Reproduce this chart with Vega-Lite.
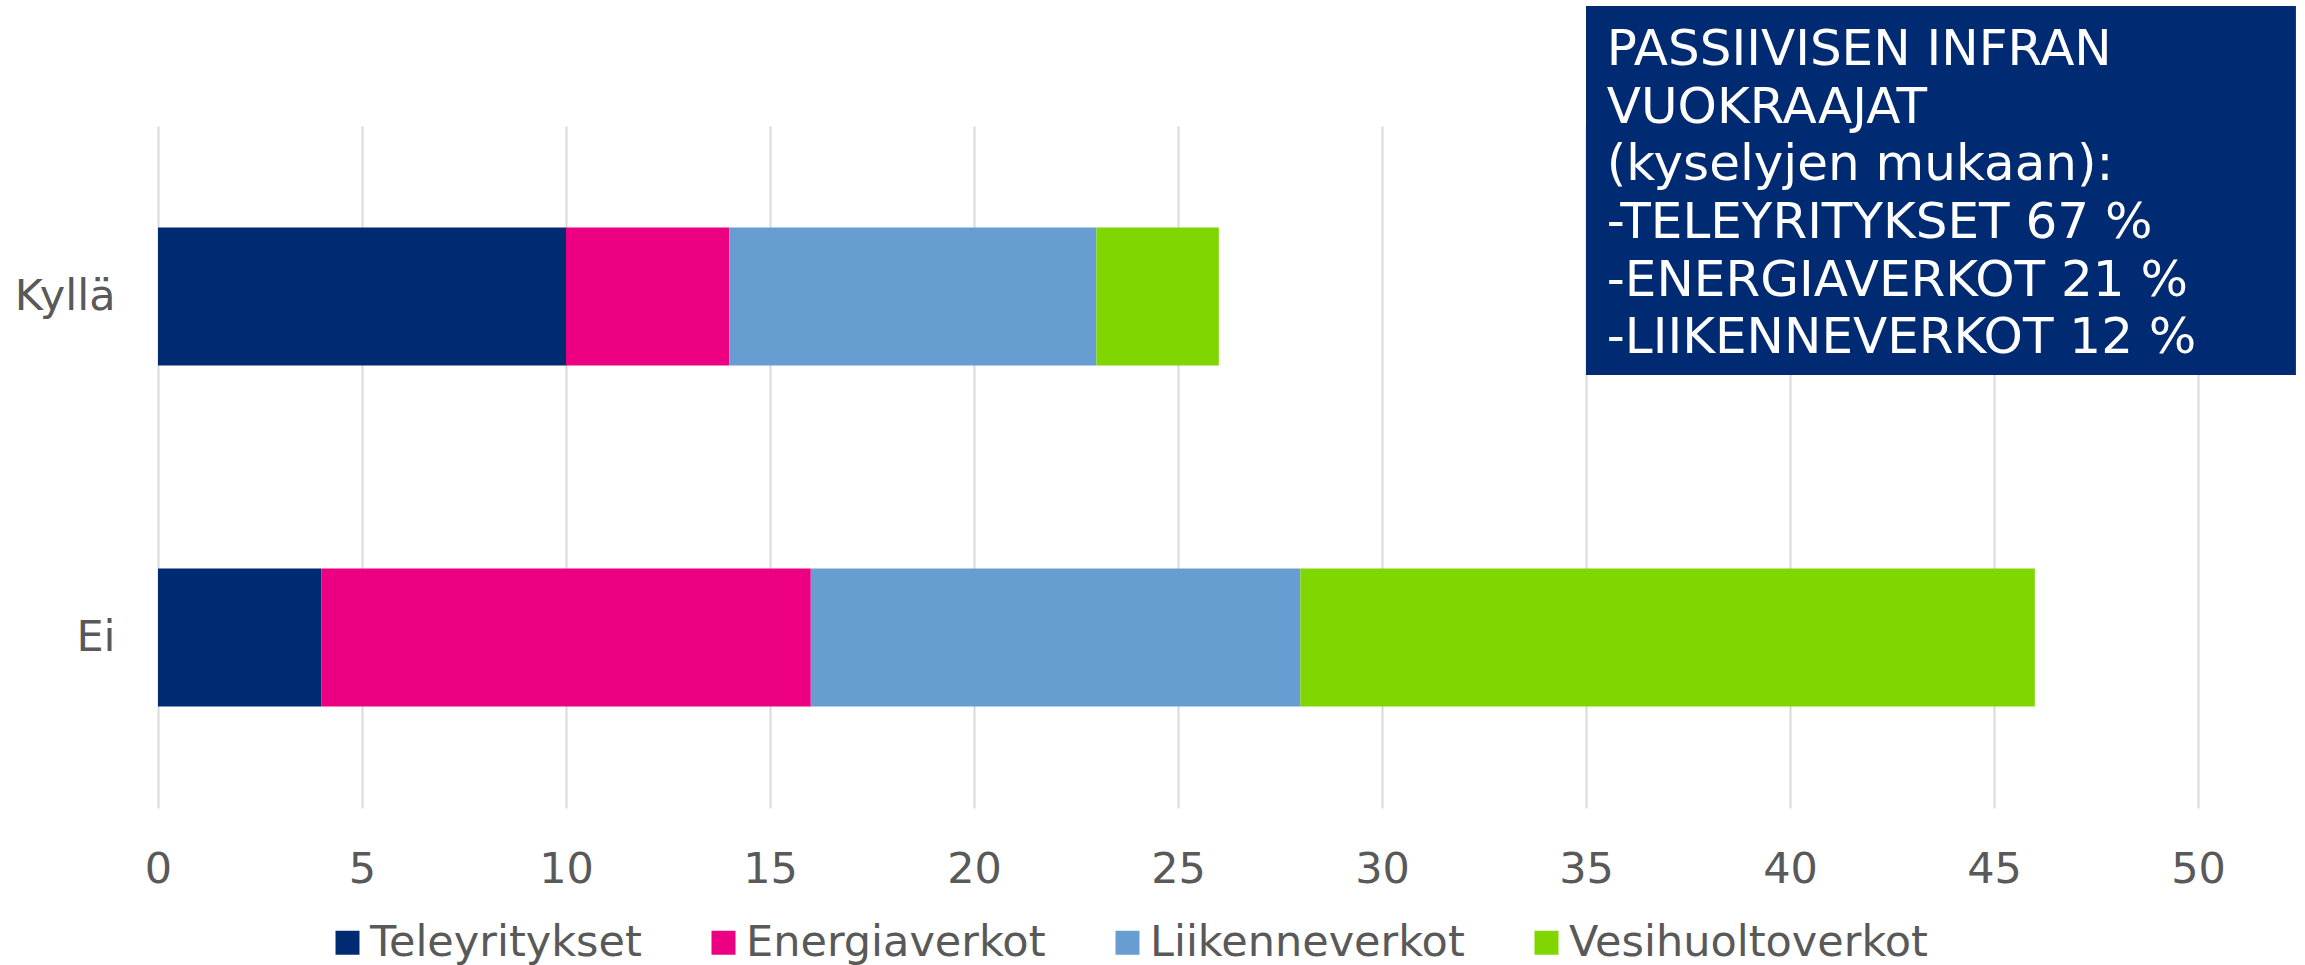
{
  "$schema": "https://vega.github.io/schema/vega-lite/v6.json",
  "width": 2040,
  "height": 682,
  "autosize": {"type": "none"},
  "padding": {"left": 158, "top": 126, "right": 107, "bottom": 157},
  "background": "white",
  "config": {
    "font": "DejaVu Sans",
    "view": {"stroke": null}
  },
  "resolve": {"scale": {"y": "independent"}},
  "layer": [
    {
      "data": {
        "values": [
          {"vastaus": "Kyllä", "sarja": "Teleyritykset", "k": 1, "arvo": 10},
          {"vastaus": "Kyllä", "sarja": "Energiaverkot", "k": 2, "arvo": 4},
          {"vastaus": "Kyllä", "sarja": "Liikenneverkot", "k": 3, "arvo": 9},
          {"vastaus": "Kyllä", "sarja": "Vesihuoltoverkot", "k": 4, "arvo": 3},
          {"vastaus": "Ei", "sarja": "Teleyritykset", "k": 1, "arvo": 4},
          {"vastaus": "Ei", "sarja": "Energiaverkot", "k": 2, "arvo": 12},
          {"vastaus": "Ei", "sarja": "Liikenneverkot", "k": 3, "arvo": 12},
          {"vastaus": "Ei", "sarja": "Vesihuoltoverkot", "k": 4, "arvo": 18}
        ]
      },
      "mark": {"type": "bar"},
      "encoding": {
        "y": {
          "field": "vastaus",
          "type": "nominal",
          "sort": ["Kyllä", "Ei"],
          "scale": {"paddingInner": 0.595, "paddingOuter": 0.2975},
          "axis": {
            "title": null,
            "domain": false,
            "ticks": false,
            "grid": false,
            "labelFontSize": 43,
            "labelColor": "#595959",
            "labelPadding": 43
          }
        },
        "x": {
          "field": "arvo",
          "type": "quantitative",
          "stack": "zero",
          "scale": {"domain": [0, 50], "nice": false},
          "axis": {
            "title": null,
            "values": [0, 5, 10, 15, 20, 25, 30, 35, 40, 45, 50],
            "domain": false,
            "ticks": false,
            "grid": true,
            "gridColor": "#d9d9d9",
            "gridWidth": 2,
            "labelFlush": false,
            "labelFontSize": 43,
            "labelColor": "#595959",
            "labelPadding": 40
          }
        },
        "order": {"field": "k", "type": "quantitative"},
        "color": {
          "field": "sarja",
          "type": "nominal",
          "scale": {
            "domain": ["Teleyritykset", "Energiaverkot", "Liikenneverkot", "Vesihuoltoverkot"],
            "range": ["#002a72", "#ec0081", "#679dd1", "#80d600"]
          },
          "legend": {
            "title": null,
            "orient": "none",
            "direction": "horizontal",
            "legendX": 168,
            "legendY": 795,
            "padding": 0,
            "symbolType": "square",
            "symbolSize": 576,
            "symbolStrokeWidth": 0,
            "labelFontSize": 43,
            "labelColor": "#595959",
            "labelLimit": 0,
            "labelOffset": 1,
            "columnPadding": 60
          }
        }
      }
    },
    {
      "data": {"values": [{"otsikko": "PASSIIVISEN INFRAN"}]},
      "mark": {"type": "rect", "color": "#002a72"},
      "encoding": {
        "x": {"datum": 35, "type": "quantitative"},
        "x2": {"datum": 52.4},
        "y": {"datum": 117.6, "type": "quantitative", "scale": {"domain": [0, 100], "nice": false}, "axis": null},
        "y2": {"datum": 63.5}
      }
    },
    {
      "data": {"values": [{"teksti": "PASSIIVISEN INFRAN\nVUOKRAAJAT\n(kyselyjen mukaan):\n-TELEYRITYKSET 67 %\n-ENERGIAVERKOT 21 %\n-LIIKENNEVERKOT 12 %"}]},
      "mark": {
        "type": "text",
        "color": "white",
        "fontSize": 50,
        "align": "left",
        "baseline": "alphabetic",
        "lineBreak": "\n",
        "lineHeight": 57.6
      },
      "encoding": {
        "x": {"datum": 35.51, "type": "quantitative"},
        "y": {"datum": 108.9, "type": "quantitative", "scale": {"domain": [0, 100], "nice": false}, "axis": null},
        "text": {"field": "teksti", "type": "nominal"}
      }
    }
  ]
}
